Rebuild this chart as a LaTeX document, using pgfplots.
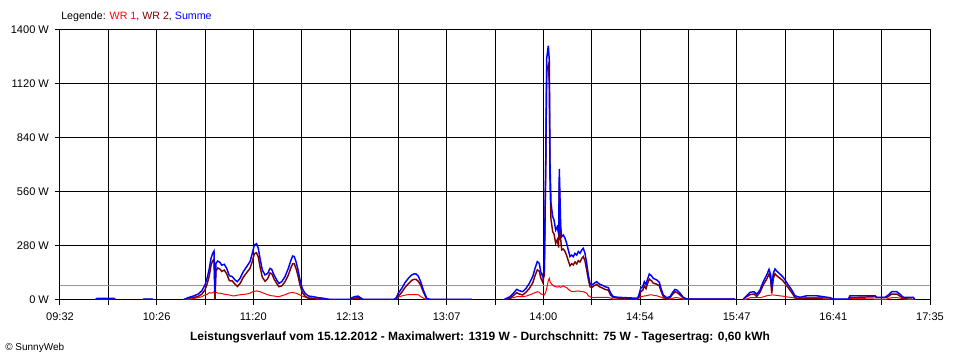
\documentclass[border=0pt]{standalone}
\usepackage{pgfplots}
\usepackage{pgfplotstable}
\pgfplotsset{compat=1.18}
\usepackage{fontspec}
\setmainfont{Liberation Sans}
\definecolor{wrone}{RGB}{255,0,0}
\definecolor{wrtwo}{RGB}{128,0,0}
\definecolor{summe}{RGB}{0,0,255}
\definecolor{avg}{RGB}{150,150,150}
\pgfplotstableread{
t wr1 wr2 sum
19.43 0 0 0
20.54 3 5 8
29.98 3 5 8
31.09 0 0 0
32 nan nan nan
45.52 0 0 0
46.63 2 3 5
51.08 2 3 5
52.19 0 0 0
53 nan nan nan
68.29 0 0 0
71.06 3 9 12
73.84 7 13 20
76.61 12 18 30
78.67 17 30 47
80.50 26 52 78
81.78 30 86 116
82.89 38 126 164
83.83 36 180 216
84.77 38 204 242
85.50 43 211 254
86.05 43 0 43
86.61 40 150 190
87.55 36 166 202
88.83 35 160 195
89.77 33 148 181
91.21 30 155 185
92.55 28 136 164
93.99 26 100 126
95.66 22 99 121
97.15 22 82 104
98.43 25 70 95
99.93 27 85 112
101.76 29 118 147
103.65 31 142 173
105.48 35 164 199
106.76 42 200 242
107.87 45 240 285
109.09 47 245 292
110.09 45 223 268
111.03 43 173 216
112.31 38 118 156
113.81 33 97 130
115.31 27 111 138
116.59 24 140 164
117.53 22 137 159
118.81 21 109 130
120.31 18 86 104
121.58 17 69 86
123.08 22 73 95
124.91 27 94 121
126.75 35 129 164
128.24 38 169 207
129.19 40 188 228
130.08 37 188 225
131.02 35 164 199
131.96 32 132 164
133.24 26 78 104
134.52 20 40 60
136.02 15 20 35
137.85 12 9 21
140.62 10 7 17
143.40 9 3 12
146.18 6 3 9
148.95 3 1 4
155.45 2 1 3
161.00 2 1 3
162.11 5 7 12
163.78 8 10 18
165.44 8 12 20
167.11 4 6 10
168.22 1 2 3
185.43 1 2 3
186.54 5 5 10
187.81 15 20 35
189.70 21 39 60
191.53 25 65 90
193.37 28 84 112
195.25 28 102 130
196.53 28 107 135
197.64 28 107 135
198.92 27 97 124
200.25 18 77 95
201.69 10 42 52
203.58 3 6 9
205.41 1 2 3
228.73 1 2 3
229 nan nan nan
246.11 0 0 0
247.99 5 4 9
249.83 9 8 17
251.66 12 23 35
253.55 17 38 55
254.99 17 31 48
256.88 17 26 43
258.71 20 40 60
260.54 26 60 86
262.43 33 88 121
263.71 38 126 164
264.98 43 156 199
266.09 40 150 190
266.87 32 115 147
267.98 28 93 121
268.87 26 130 156
269.65 40 669 709
270.20 60 1193 1253
271.09 100 1219 1319
271.64 112 1132 1244
272.03 95 614 709
272.59 86 417 503
273.53 78 354 432
274.25 72 343 415
275.20 69 294 363
276.09 67 313 380
276.86 68 272 340
277.20 70 610 680
277.97 66 314 380
278.53 68 260 328
279.42 73 264 337
280.36 68 252 320
281.30 64 230 294
282.19 56 203 259
283.14 48 177 225
284.08 45 188 233
284.97 43 182 225
285.91 45 197 242
286.86 46 187 233
287.75 47 204 251
288.69 45 197 242
289.63 44 215 259
290.52 43 225 268
291.46 40 202 242
292.41 35 155 190
293.30 22 108 130
294.24 17 69 86
295.18 14 64 78
296.46 12 74 86
297.96 14 81 95
299.40 14 69 83
300.74 14 64 78
302.57 14 55 69
304.40 13 51 64
305.73 10 25 35
307.18 4 13 17
309.95 4 10 14
320.33 5 4 9
321.06 10 7 17
322.39 17 43 60
323.50 19 50 69
324.39 21 74 95
325.33 22 59 81
326.05 23 81 104
327.16 26 109 135
328.49 26 98 124
329.38 25 87 112
331.27 22 82 104
332.71 18 74 92
333.66 14 46 60
334.94 9 17 26
336.82 6 6 12
338.65 5 12 17
340.15 9 31 40
341.43 12 43 55
342.70 12 38 50
344.21 9 26 35
346.04 4 10 14
347.93 1 4 5
374.74 1 4 5
375.5 nan nan nan
379.35 0 5 5
381.23 5 17 22
383.07 12 28 40
385.29 12 31 43
386.79 12 18 30
388.62 12 40 52
390.45 16 79 95
392.34 22 108 130
393.62 24 135 159
394.56 25 105 130
395.12 26 34 60
396.00 26 112 138
396.95 25 136 161
397.89 24 126 150
399.33 22 116 138
401.22 20 101 121
402.50 18 86 104
404.33 15 63 78
406.22 13 39 52
408.05 10 12 22
410.83 9 5 14
414.55 14 8 22
420.10 14 8 22
423.76 12 5 17
427.48 9 3 12
429.32 2 3 5
437.64 2 3 5
438.58 9 13 22
452.46 5 17 22
453.40 2 12 14
458.02 2 12 14
459.85 8 18 26
461.74 12 31 43
464.52 12 31 43
466.34 10 20 30
468.18 5 9 14
473.73 2 12 14
474.67 0 0 0
}\power
\begin{document}
\begin{tikzpicture}[x=1pt,y=1pt]
\path[use as bounding box] (-45,-45) rectangle (675,225);
\begin{axis}[at={(0,0)}, anchor=south west, scale only axis,
  width=652.5pt, height=202.5pt,
  xmin=0, xmax=483, ymin=0, ymax=1400,
  unbounded coords=jump,
  xtick={0,26.833,53.667,80.5,107.333,134.167,161,187.833,214.667,241.5,268.333,295.167,322,348.833,375.667,402.5,429.333,456.167,483},
  xticklabels={09:32,,10:26,,11:20,,12:13,,13:07,,14:00,,14:54,,15:47,,16:41,,17:35},
  ytick={0,280,560,840,1120,1400},
  yticklabels={0 W,280 W,560 W,840 W,1120 W,1400 W},
  grid=major,
  major grid style={black, line width=0.75pt},
  axis line style={black, line width=0.75pt},
  tick style={black, line width=0.75pt},
  tick align=outside, major tick length=3.75pt,
  xtick pos=left, ytick pos=left,
  tick label style={font=\fontsize{8.3}{9}\selectfont},
  xticklabel style={yshift=-2.5pt},
  yticklabel style={xshift=-1pt},
]
\addplot[avg, line width=0.9pt] coordinates {(0,75) (483,75)};
\addplot[wrone, line width=0.75pt] table[x=t, y=wr1] {\power};
\addplot[wrtwo, line width=1.1pt] table[x=t, y=wr2] {\power};
\addplot[summe, line width=1.1pt] table[x=t, y=sum] {\power};
\end{axis}
\node[anchor=west, inner sep=0pt, font=\fontsize{8}{9}\selectfont] at (0.75,212.25)
  {Legende: \textcolor{wrone}{WR 1}, \textcolor{wrtwo}{WR 2}, \textcolor{summe}{Summe}};
\node[anchor=center, inner sep=0pt, font=\fontsize{9}{10}\selectfont\bfseries] at (315,-27.75)
  {Leistungsverlauf vom 15.12.2012 - Maximalwert: 1319 W - Durchschnitt: 75 W - Tagesertrag: 0,60 kWh};
\node[anchor=west, inner sep=0pt, font=\fontsize{7.5}{9}\selectfont] at (-41.25,-36)
  {\textcopyright\ SunnyWeb};
\end{tikzpicture}
\end{document}
